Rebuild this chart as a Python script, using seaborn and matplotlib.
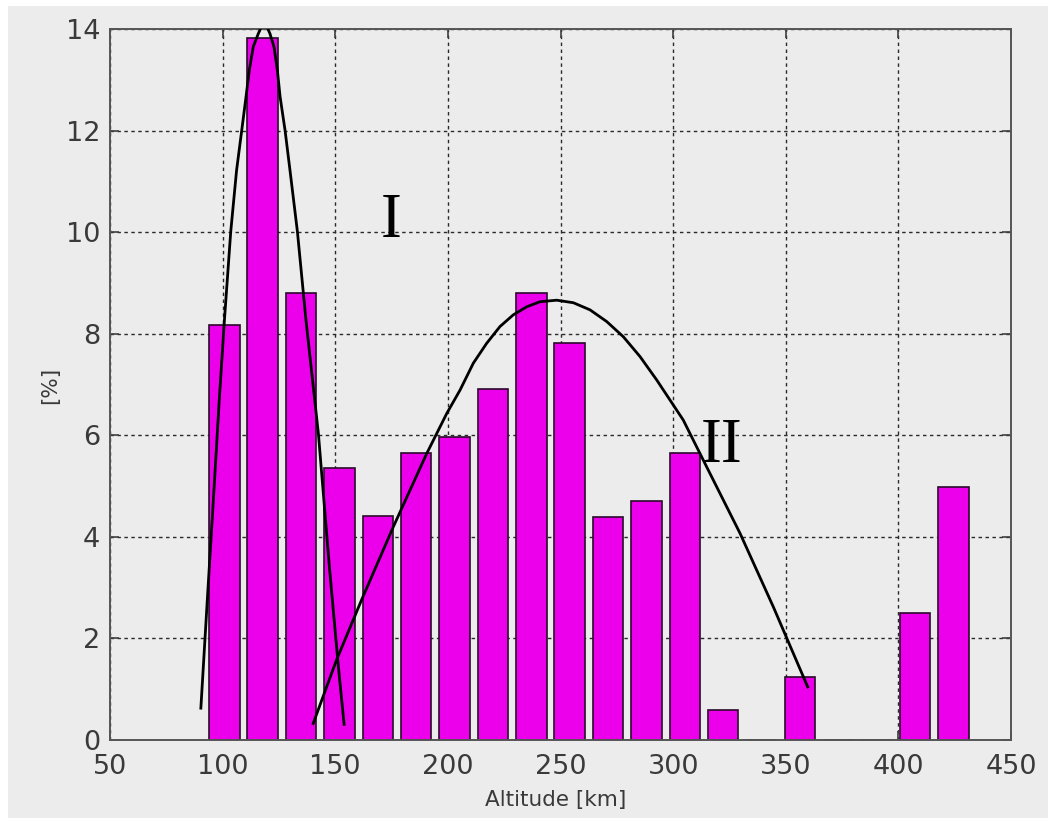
import matplotlib
matplotlib.use("Agg")
import matplotlib.pyplot as plt
from matplotlib.patches import Rectangle
import numpy as np
import pandas as pd
import seaborn as sns

# Histogram of layer altitudes: bin centres [km] and share of events [%]
altitude_km = [100.7, 117.7, 134.8, 151.8, 168.9, 185.9, 203.0, 220.0, 237.0, 254.1,
               271.1, 288.2, 305.2, 322.2, 339.3, 356.3, 373.4, 390.4, 407.4, 424.5]
percent = [8.17, 13.83, 8.80, 5.35, 4.41, 5.66, 5.97, 6.92, 8.80, 7.82,
           4.39, 4.70, 5.65, 0.60, 0.0, 1.25, 0.0, 0.0, 2.51, 4.99]

# Envelope of population I (lower peak)
curve1_x = [90.3, 93.2, 95.9, 98.5, 100.8, 103.6, 106.2, 108.5, 110.4, 111.85,
            113.6, 115.85, 117.2, 118.4, 119.7, 121.0, 122.8, 124.3, 125.5, 127.7,
            129.9, 133.2, 137.0, 142.5, 147.4, 151.4, 154.0]
curve1_y = [0.60, 2.76, 4.73, 6.69, 8.27, 10.01, 11.22, 12.01, 12.67, 13.19,
            13.65, 13.91, 14.04, 14.08, 14.04, 13.91, 13.65, 13.19, 12.67, 12.01,
            11.22, 10.01, 8.27, 6.04, 3.41, 1.44, 0.28]

# Envelope of population II (upper peak)
curve2_x = [140.0, 150.6, 161.7, 175.8, 190.6, 199.5, 205.4, 211.3, 217.2, 223.1,
            229.0, 235.0, 240.9, 248.3, 255.7, 263.1, 270.5, 277.9, 285.3, 292.7,
            304.5, 313.4, 329.7, 344.5, 360.0]
curve2_y = [0.30, 1.58, 2.76, 4.20, 5.64, 6.43, 6.89, 7.42, 7.81, 8.14,
            8.37, 8.53, 8.63, 8.66, 8.61, 8.47, 8.24, 7.94, 7.55, 7.09,
            6.30, 5.51, 4.07, 2.62, 1.02]

x_ticks = [50, 100, 150, 200, 250, 300, 350, 400, 450]
y_ticks = [0, 2, 4, 6, 8, 10, 12, 14]

W, H = 1048, 818
fig = plt.figure(figsize=(W / 100, H / 100), dpi=100)
fig.patch.set_facecolor("white")
fig.add_artist(Rectangle((8 / W, 0), 1 - 8 / W, 1 - 6 / H, transform=fig.transFigure,
                         facecolor="#ececec", edgecolor="none", zorder=-10))

ax = fig.add_axes([110 / W, 78 / H, 901 / W, 711 / H])
ax.set_facecolor("#ececec")

df = pd.DataFrame({"altitude": altitude_km, "percent": percent})
sns.barplot(data=df, x="altitude", y="percent", native_scale=True, width=0.8,
            color="#ec00ec", saturation=1, edgecolor="#2a0a2a", linewidth=1.2,
            errorbar=None, ax=ax, zorder=2)

for cx, cy in ((curve1_x, curve1_y), (curve2_x, curve2_y)):
    sns.lineplot(x=cx, y=cy, sort=False, estimator=None, color="black",
                 linewidth=2.0, ax=ax, zorder=4)
for line in ax.get_lines():
    line.set_solid_joinstyle("round")
    line.set_solid_capstyle("butt")

ax.text(174.8, 9.91, "I", family="Liberation Serif", fontsize=45,
        ha="center", va="baseline", color="black", zorder=5)
ax.text(321.6, 5.48, "II", family="Liberation Serif", fontsize=45,
        ha="center", va="baseline", color="black", zorder=5)

ax.set_xlim(50, 450)
ax.set_ylim(0, 14)
ax.set_xticks(x_ticks)
ax.set_yticks(y_ticks)
ax.set_xticklabels([str(v) for v in x_ticks])
ax.set_yticklabels([str(v) for v in y_ticks])

ax.set_axisbelow(True)
ax.grid(True, color="#2a2a2a", linestyle=(0, (2.5, 2.5)), linewidth=1.0)

label_color = "#3a3a3a"
ax.tick_params(axis="both", direction="in", length=6.5, width=1.2, color="#404040",
               top=True, right=True, labelsize=19.5, labelcolor=label_color)
ax.tick_params(axis="x", pad=10)
ax.tick_params(axis="y", pad=7)
for lab in ax.get_xticklabels() + ax.get_yticklabels():
    lab.set_family("DejaVu Sans")

for sp in ax.spines.values():
    sp.set_color("#555555")
    sp.set_linewidth(1.4)

ax.set_xlabel("Altitude [km]", family="DejaVu Sans", fontsize=15.5, color=label_color)
ax.set_ylabel("[%]", family="DejaVu Sans", fontsize=15.5, color=label_color)
ax.xaxis.set_label_coords(0.495, -0.070)
ax.yaxis.set_label_coords(-0.0555, 0.499)

fig.savefig("out.png", dpi=100, facecolor=fig.get_facecolor())
